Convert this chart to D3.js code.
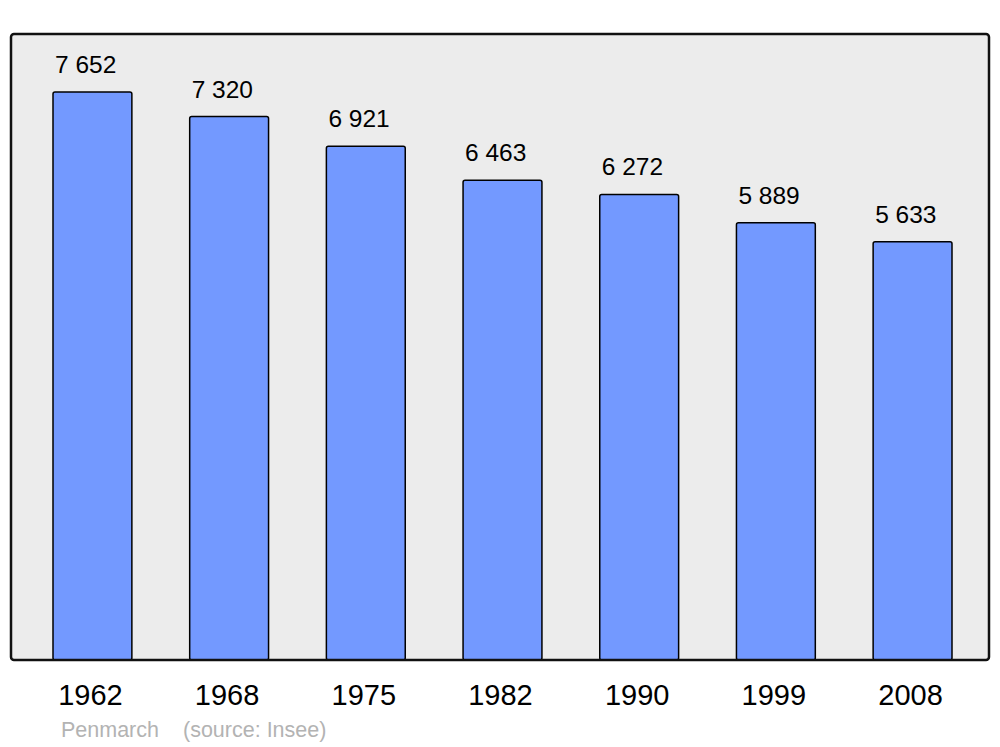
<!DOCTYPE html>
<html>
<head>
<meta charset="utf-8">
<script src="https://cdn.jsdelivr.net/npm/d3@7"></script>
<style>
  body { margin: 0; background: #fff; }
  text { font-family: "Liberation Sans", Arial, sans-serif; }
</style>
</head>
<body>
<div id="container"></div>
<script>
// data
var years = ["1962", "1968", "1975", "1982", "1990", "1999", "2008"];
var population = [7652, 7320, 6921, 6463, 6272, 5889, 5633];
var commune = "Penmarch";
var source = "(source: Insee)";

var width = 1000;
var height = 747;
var frame = {left: 11, top: 34, right: 989, bottom: 660};

const svg = d3.select("#container")
              .append("svg")
              .attr("width", width)
              .attr("height", height);

// background of the plot area
svg.append("rect")
   .attr("x", frame.left)
   .attr("y", frame.top)
   .attr("width", frame.right - frame.left)
   .attr("height", frame.bottom - frame.top)
   .attr("rx", 3)
   .attr("fill", "#ececec");

var xScale = d3.scaleBand()
               .domain(years)
               .range([53, 952])
               .paddingInner(0.423)
               .paddingOuter(0);

var yScale = d3.scaleLinear()
               .domain([0, 8433])
               .range([frame.bottom, frame.top]);

var data = years.map((y, i) => ({year: y, value: population[i]}));

svg.selectAll("rect.bar")
   .data(data)
   .enter()
   .append("rect")
   .attr("class", "bar")
   .attr("x", d => xScale(d.year))
   .attr("y", d => yScale(d.value))
   .attr("width", xScale.bandwidth())
   .attr("height", d => yScale(0) - yScale(d.value))
   .attr("rx", 2)
   .attr("fill", "#7399ff")
   .attr("stroke", "#000")
   .attr("stroke-width", 1.5);

// frame border on top of the bars
svg.append("rect")
   .attr("x", frame.left)
   .attr("y", frame.top)
   .attr("width", frame.right - frame.left)
   .attr("height", frame.bottom - frame.top)
   .attr("rx", 3)
   .attr("fill", "none")
   .attr("stroke", "#111")
   .attr("stroke-width", 2.5);

// value labels
svg.selectAll("text.value")
   .data(data)
   .enter()
   .append("text")
   .attr("class", "value")
   .attr("x", d => xScale(d.year) + 2)
   .attr("y", d => yScale(d.value) - 19)
   .attr("font-size", 24.5)
   .attr("fill", "#000")
   .text(d => d3.format(",")(d.value).replace(",", " "));

// year labels
svg.selectAll("text.year")
   .data(data)
   .enter()
   .append("text")
   .attr("class", "year")
   .attr("x", d => xScale(d.year) + xScale.bandwidth() / 2 - 2)
   .attr("y", 705)
   .attr("text-anchor", "middle")
   .attr("font-size", 29)
   .attr("fill", "#000")
   .text(d => d.year);

// footer
svg.append("text")
   .attr("x", 61)
   .attr("y", 737)
   .attr("font-size", 21.5)
   .attr("fill", "#b3b3b3")
   .text(commune);

svg.append("text")
   .attr("x", 183)
   .attr("y", 737)
   .attr("font-size", 21.5)
   .attr("fill", "#b3b3b3")
   .text(source);
</script>
</body>
</html>
